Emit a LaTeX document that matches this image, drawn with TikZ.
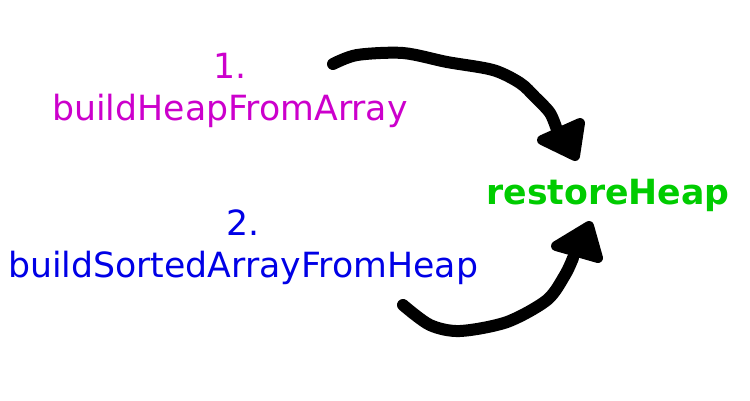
\documentclass[tikz,border=0pt]{standalone}
\usepackage{fontspec}
\setmainfont{DejaVu Sans}
\definecolor{stepmagenta}{RGB}{204,0,204}
\definecolor{stepblue}{RGB}{0,0,230}
\definecolor{stepgreen}{RGB}{0,204,0}
\tikzset{
	steplabel/.style={align=center,inner sep=0pt,font=\fontsize{34.7}{42}\selectfont},
	scribble/.style={line width=12pt,line cap=round,line join=round},
	scribblehead/.style={fill,line width=10pt,line join=round}
}
\begin{document}
\begin{tikzpicture}[x=1pt,y=-1pt]
	\useasboundingbox (0,0) rectangle (750,400);
	% labels
	\node[steplabel,text=stepmagenta] (build) at (230,90) {1.\\buildHeapFromArray};
	\node[steplabel,text=stepblue] (sorted) at (243,247) {2.\\buildSortedArrayFromHeap};
	\node[steplabel,text=stepgreen,font=\fontsize{34.7}{42}\selectfont\bfseries] (restore) at (608,195) {restoreHeap};
	% hand drawn arrows
	\coordinate (from1) at (333,64);
	\coordinate (to1) at (557,130);
	\coordinate (from2) at (403,305);
	\coordinate (to2) at (573,258);
	\draw[scribble] plot[smooth] coordinates {(from1) (357,55) (403,53) (447,62) (493,70) (520,83) (535,97) (550,113) (to1)};
	\draw[scribblehead] (542,140) -- (580,123) -- (575,156) -- cycle;
	\draw[scribble] plot[smooth] coordinates {(from2) (430,325) (460,331) (507,322) (547,300) (565,275) (to2)};
	\draw[scribblehead] (556,246) -- (589,226) -- (598,258) -- cycle;
\end{tikzpicture}
\end{document}
